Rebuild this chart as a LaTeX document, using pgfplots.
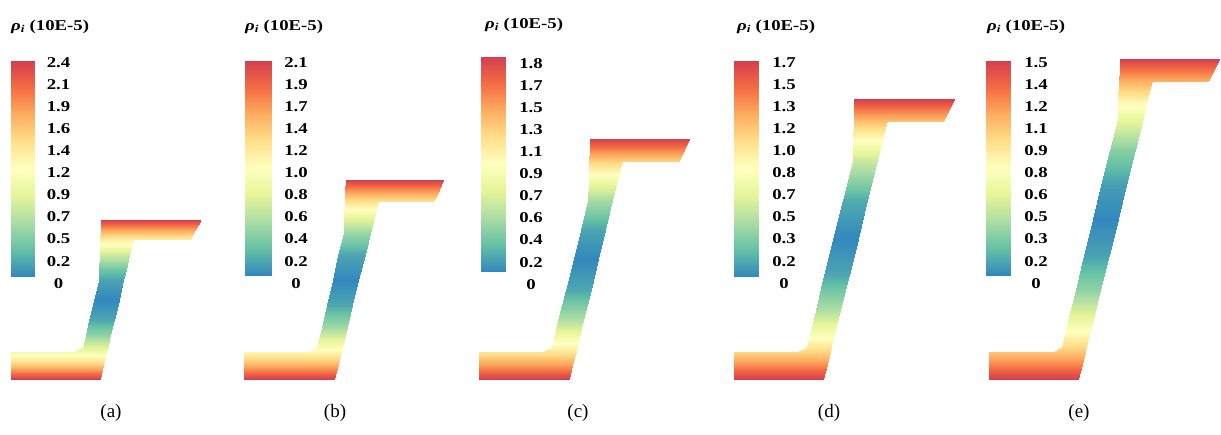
\documentclass[border=0pt]{standalone}
\usepackage{fontspec}
\setmainfont{Liberation Serif}
\newfontfamily\cbfont[FakeStretch=1.25]{Liberation Serif}
\usepackage{pgfplots}
\pgfplotsset{compat=1.18}
\pgfplotsset{
 colormap={spect}{rgb255=(50,136,189) rgb255=(102,194,165) rgb255=(171,221,164) rgb255=(230,245,152) rgb255=(255,255,191) rgb255=(254,224,139) rgb255=(253,174,97) rgb255=(244,109,67) rgb255=(213,62,79)},
 panel/.style={width=1221pt,height=434pt,scale only axis,hide axis,
  xmin=0,xmax=1221,ymin=0,ymax=434,y dir=reverse,clip=false,
  at={(0,0)},anchor=south west,colormap name=spect,point meta min=0},
 field/.style={surf,shader=interp,point meta=explicit,mesh/cols=2},
}
\tikzset{
 cblab/.style={anchor=north,align=center,inner sep=0pt,font=\cbfont\bfseries\fontsize{15pt}{22.1pt}\selectfont},
 cbttl/.style={anchor=west,inner sep=0pt,font=\cbfont\bfseries\fontsize{15pt}{17pt}\selectfont},
 subcap/.style={inner sep=0pt,font=\fontsize{19pt}{21pt}\selectfont},
}
\newcommand{\ttltext}{\textit{ρ}\textsubscript{\textit{i}} (10E-5)}
\begin{document}
\begin{tikzpicture}
% ---------------- (a)
\begin{axis}[panel, point meta max=2.4]
\path (axis cs:0,0) rectangle (axis cs:1221,434);
\addplot[field] coordinates {
(11,276)[0] (35,276)[0]
(11,61)[2.4] (35,61)[2.4]
};
\addplot[field] coordinates {
(101,220)[2.40] (201,220)[2.40]
(100.7,230)[1.83] (195.2,230)[1.83]
(100.4,239)[1.39] (190,239)[1.39]
(100.4,239)[1.39] (133,239)[1.39]
(99.8,255)[0.75] (129.2,255)[0.75]
(99.3,270)[0.33] (125.7,270)[0.33]
(99,280)[0.14] (123.3,280)[0.14]
(94.2,300)[0.00] (118.6,300)[0.00]
(89.4,320)[0.16] (113.9,320)[0.16]
(85.9,335)[0.48] (110.4,335)[0.48]
(83,347)[0.86] (107.5,347)[0.86]
(73,352)[1.05] (106.4,352)[1.05]
(11,352)[1.05] (106.4,352)[1.05]
(11,365)[1.63] (103.3,365)[1.63]
(11,379)[2.40] (100,379)[2.40]
};
\node[cblab] at (axis cs:58.5,57) {2.4\\2.1\\1.9\\1.6\\1.4\\1.2\\0.9\\0.7\\0.5\\0.2\\0};
\node[cbttl] at (axis cs:11,27) {\ttltext};
\node[subcap] at (axis cs:111,413) {(a)};
\end{axis}
% ---------------- (b)
\begin{axis}[panel, point meta max=2.1]
\addplot[field] coordinates {
(245,275)[0] (271,275)[0]
(245,61)[2.1] (271,61)[2.1]
};
\addplot[field] coordinates {
(345.5,180)[2.10] (443.3,180)[2.10]
(345.1,190)[1.70] (438.9,190)[1.70]
(344.7,201)[1.31] (434,201)[1.31]
(344.7,201)[1.31] (377.7,201)[1.31]
(344.1,217)[0.83] (373.8,217)[0.83]
(343.5,233)[0.46] (369.9,233)[0.46]
(338.4,255)[0.13] (364.5,255)[0.13]
(332.7,280)[0.00] (358.4,280)[0.00]
(327.0,305)[0.14] (352.3,305)[0.14]
(321.9,327)[0.48] (347.0,327)[0.48]
(317.3,347)[0.97] (342.1,347)[0.97]
(308.3,352)[1.12] (340.9,352)[1.12]
(244.3,352)[1.12] (340.9,352)[1.12]
(244.3,365)[1.55] (337.7,365)[1.55]
(244.3,379)[2.10] (334.3,379)[2.10]
};
\node[cblab] at (axis cs:296,57) {2.1\\1.9\\1.7\\1.4\\1.2\\1.0\\0.8\\0.6\\0.4\\0.2\\0};
\node[cbttl] at (axis cs:245,27) {\ttltext};
\node[subcap] at (axis cs:335,413) {(b)};
\end{axis}
% ---------------- (c)
\begin{axis}[panel, point meta max=1.8]
\addplot[field] coordinates {
(481,271)[0] (505,271)[0]
(481,57)[1.8] (505,57)[1.8]
};
\addplot[field] coordinates {
(590,139)[1.80] (689.3,139)[1.80]
(589.7,150)[1.49] (684.1,150)[1.49]
(589.4,161)[1.20] (679,161)[1.20]
(589.4,161)[1.20] (621.7,161)[1.20]
(588.9,180)[0.78] (617.1,180)[0.78]
(588.3,200)[0.44] (612.3,200)[0.44]
(580.8,230)[0.11] (605.0,230)[0.11]
(573.6,259)[0.00] (598.0,259)[0.00]
(565.9,290)[0.12] (590.5,290)[0.12]
(558.4,320)[0.47] (583.3,320)[0.47]
(551.7,347)[0.97] (576.7,347)[0.97]
(541.7,352)[1.08] (575.5,352)[1.08]
(479,352)[1.08] (575.5,352)[1.08]
(479,365)[1.40] (572.4,365)[1.40]
(479,379)[1.80] (569,379)[1.80]
};
\node[cblab] at (axis cs:531,58) {1.8\\1.7\\1.5\\1.3\\1.1\\0.9\\0.7\\0.6\\0.4\\0.2\\0};
\node[cbttl] at (axis cs:485,25) {\ttltext};
\node[subcap] at (axis cs:578,413) {(c)};
\end{axis}
% ---------------- (d)
\begin{axis}[panel, point meta max=1.7]
\addplot[field] coordinates {
(734,276)[0] (758,276)[0]
(734,61)[1.7] (758,61)[1.7]
};
\addplot[field] coordinates {
(854.3,99)[1.70] (954.3,99)[1.70]
(854.0,110)[1.44] (948.8,110)[1.44]
(853.7,121)[1.21] (943.3,121)[1.21]
(853.7,121)[1.21] (886.7,121)[1.21]
(853.2,140)[0.85] (882.0,140)[0.85]
(852.7,160)[0.54] (877.1,160)[0.54]
(842.9,200)[0.13] (867.3,200)[0.13]
(833.3,239)[0.00] (857.7,239)[0.00]
(824.4,275)[0.11] (848.9,275)[0.11]
(815.8,310)[0.44] (840.3,310)[0.44]
(810.9,330)[0.72] (835.3,330)[0.72]
(806.7,347)[1.01] (831.2,347)[1.01]
(797.3,352)[1.11] (829.9,352)[1.11]
(734,352)[1.11] (829.9,352)[1.11]
(734,365)[1.38] (826.7,365)[1.38]
(734,379)[1.70] (823.3,379)[1.70]
};
\node[cblab] at (axis cs:784,57) {1.7\\1.5\\1.3\\1.2\\1.0\\0.8\\0.7\\0.5\\0.3\\0.2\\0};
\node[cbttl] at (axis cs:737,27) {\ttltext};
\node[subcap] at (axis cs:829,413) {(d)};
\end{axis}
% ---------------- (e)
\begin{axis}[panel, point meta max=1.5]
\addplot[field] coordinates {
(986,275)[0] (1010,275)[0]
(986,61)[1.5] (1010,61)[1.5]
};
\addplot[field] coordinates {
(1120,59)[1.50] (1219.3,59)[1.50]
(1119.6,70)[1.30] (1213.8,70)[1.30]
(1119.2,81)[1.12] (1208.3,81)[1.12]
(1119.2,81)[1.12] (1152,81)[1.12]
(1118.4,100)[0.83] (1147.3,100)[0.83]
(1117.7,118)[0.60] (1142.8,118)[0.60]
(1109.9,150)[0.28] (1134.9,150)[0.28]
(1101.3,185)[0.07] (1126.3,185)[0.07]
(1093.0,219)[0.00] (1117.9,219)[0.00]
(1084.2,255)[0.08] (1109.0,255)[0.08]
(1075.6,290)[0.30] (1100.3,290)[0.30]
(1068.3,320)[0.60] (1092.9,320)[0.60]
(1061.7,347)[0.96] (1086.2,347)[0.96]
(1052.7,352)[1.04] (1084.9,352)[1.04]
(989.3,352)[1.04] (1084.9,352)[1.04]
(989.3,365)[1.25] (1081.8,365)[1.25]
(989.3,379)[1.50] (1078.3,379)[1.50]
};
\node[cblab] at (axis cs:1036,57) {1.5\\1.4\\1.2\\1.1\\0.9\\0.8\\0.6\\0.5\\0.3\\0.2\\0};
\node[cbttl] at (axis cs:987,27) {\ttltext};
\node[subcap] at (axis cs:1079,413) {(e)};
\end{axis}
\end{tikzpicture}
\end{document}
